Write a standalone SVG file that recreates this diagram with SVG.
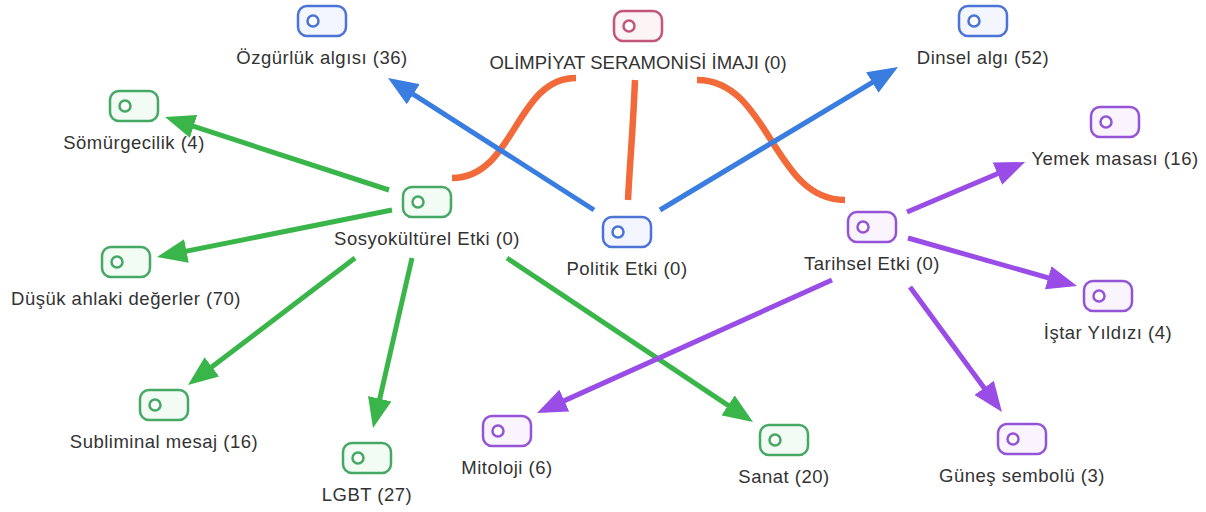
<svg xmlns="http://www.w3.org/2000/svg" width="1206" height="512" viewBox="0 0 1206 512">
<style>
.lbl{font-family:"Liberation Sans",Arial,sans-serif;font-size:18.5px;fill:#333;text-anchor:middle;letter-spacing:0.5px}
.gi{stroke:#45a863;fill:#f3fbf5}
.bi{stroke:#4b74d6;fill:#f3f6fe}
.pi{stroke:#9553d8;fill:#f9f4fe}
.ri{stroke:#c2567a;fill:#fdf4f6}
.e{fill:none;stroke-width:5}
.eg{stroke:#39b54a}.eb{stroke:#3a7de0}.ep{stroke:#9a4de6}
.eo{fill:none;stroke:#f2693a;stroke-width:6.5}
</style>
<defs>
<marker id="ag" markerUnits="userSpaceOnUse" markerWidth="30" markerHeight="24" refX="23" refY="12" orient="auto"><path d="M0,0 L30,12 L0,24 Z" fill="#39b54a"/></marker>
<marker id="ab" markerUnits="userSpaceOnUse" markerWidth="30" markerHeight="24" refX="23" refY="12" orient="auto"><path d="M0,0 L30,12 L0,24 Z" fill="#3a7de0"/></marker>
<marker id="ap" markerUnits="userSpaceOnUse" markerWidth="30" markerHeight="24" refX="23" refY="12" orient="auto"><path d="M0,0 L30,12 L0,24 Z" fill="#9a4de6"/></marker>
<g id="icon" stroke-width="2.5"><rect x="-24" y="-15" width="48" height="30" rx="9"/><circle cx="-9" cy="0" r="5.5" fill="#fff"/></g>
</defs>
<g id="connectors">
<path class="eo" d="M452,178 C515,178 515,78 576,78"/>
<path class="eo" d="M635,80 C633,130 630,160 628,200"/>
<path class="eo" d="M697,80 C770,80 772,200 845,200"/>
<path class="e eg" marker-end="url(#ag)" d="M389,190 L171.7,119.2"/>
<path class="e eg" marker-end="url(#ag)" d="M392,210 L163.9,255.6"/>
<path class="e eg" marker-end="url(#ag)" d="M355,258 L193.6,380.8"/>
<path class="e eg" marker-end="url(#ag)" d="M412,258 L374.6,421.2"/>
<path class="e eg" marker-end="url(#ag)" d="M507,258 L747.2,418.1"/>
<path class="e eb" marker-end="url(#ab)" d="M594,210 L393.9,81.8"/>
<path class="e eb" marker-end="url(#ab)" d="M660,210 L892,70.6"/>
<path class="e ep" marker-end="url(#ap)" d="M907,212 L1018.6,164.7"/>
<path class="e ep" marker-end="url(#ap)" d="M908,238 L1070.3,284.1"/>
<path class="e ep" marker-end="url(#ap)" d="M910,287 L997.8,406.4"/>
<path class="e ep" marker-end="url(#ap)" d="M832,280 L543.4,410.1"/>
</g>
<g id="olimpiyat" transform="translate(638,26)"><use class="ri" href="#icon"/><text class="lbl" y="43" style="letter-spacing:0">OLİMPİYAT SERAMONİSİ İMAJI (0)</text></g>
<g id="ozgurluk" transform="translate(322,21)"><use class="bi" href="#icon"/><text class="lbl" y="43">Özgürlük algısı (36)</text></g>
<g id="dinsel" transform="translate(983,21)"><use class="bi" href="#icon"/><text class="lbl" y="43">Dinsel algı (52)</text></g>
<g id="somurgecilik" transform="translate(134,106)"><use class="gi" href="#icon"/><text class="lbl" y="43">Sömürgecilik (4)</text></g>
<g id="yemek" transform="translate(1115,122)"><use class="pi" href="#icon"/><text class="lbl" y="43">Yemek masası (16)</text></g>
<g id="sosyokulturel" transform="translate(427,202)"><use class="gi" href="#icon"/><text class="lbl" y="43">Sosyokültürel Etki (0)</text></g>
<g id="politik" transform="translate(627,232)"><use class="bi" href="#icon"/><text class="lbl" y="43">Politik Etki (0)</text></g>
<g id="tarihsel" transform="translate(872,227)"><use class="pi" href="#icon"/><text class="lbl" y="43">Tarihsel Etki (0)</text></g>
<g id="dusuk" transform="translate(126,262)"><use class="gi" href="#icon"/><text class="lbl" y="43">Düşük ahlaki değerler (70)</text></g>
<g id="istar" transform="translate(1108,296)"><use class="pi" href="#icon"/><text class="lbl" y="43">İştar Yıldızı (4)</text></g>
<g id="subliminal" transform="translate(164,405)"><use class="gi" href="#icon"/><text class="lbl" y="43">Subliminal mesaj (16)</text></g>
<g id="lgbt" transform="translate(367,458)"><use class="gi" href="#icon"/><text class="lbl" y="43">LGBT (27)</text></g>
<g id="mitoloji" transform="translate(507,431)"><use class="pi" href="#icon"/><text class="lbl" y="43">Mitoloji (6)</text></g>
<g id="sanat" transform="translate(784,440)"><use class="gi" href="#icon"/><text class="lbl" y="43">Sanat (20)</text></g>
<g id="gunes" transform="translate(1022,439)"><use class="pi" href="#icon"/><text class="lbl" y="43">Güneş sembolü (3)</text></g>
</svg>
